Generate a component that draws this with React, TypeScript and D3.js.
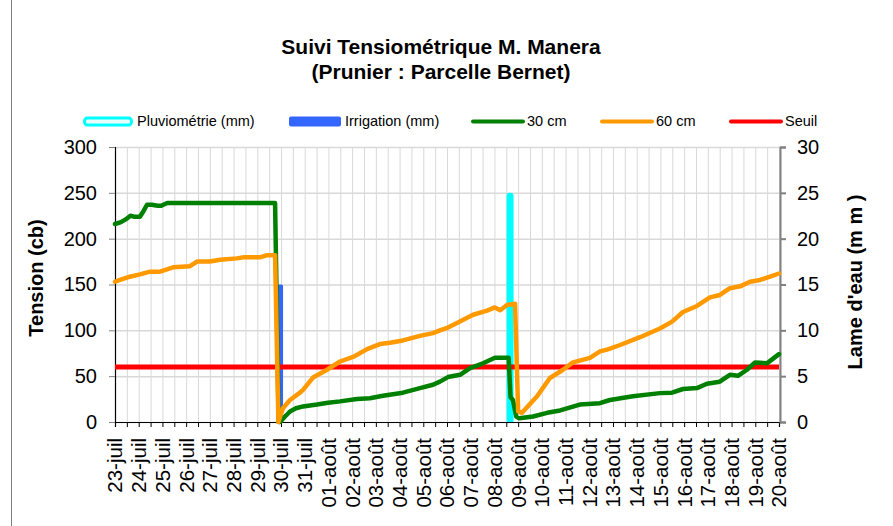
import React, { useEffect, useRef } from "react";
import * as d3 from "d3";

// days since 23-juil (0) for every label
const dayLabels = [
  "23-juil", "24-juil", "25-juil", "26-juil", "27-juil", "28-juil", "29-juil", "30-juil", "31-juil",
  "01-août", "02-août", "03-août", "04-août", "05-août", "06-août", "07-août", "08-août", "09-août",
  "10-août", "11-août", "12-août", "13-août", "14-août", "15-août", "16-août", "17-août", "18-août",
  "19-août", "20-août",
];
const tensionTicks = [0, 50, 100, 150, 200, 250, 300];
const lameTicks = [0, 5, 10, 15, 20, 25, 30];

// 30 cm probe (time in days, tension in cb)
const t30 = [0, 0.25, 0.45, 0.65, 0.8, 1.05, 1.2, 1.35, 1.55, 1.8, 1.95, 2.2, 6.75, 6.9, 6.96, 7.17, 7.38, 7.63, 7.93,
  8.52, 8.98, 9.49, 10.2, 10.75, 11.3, 12.14, 12.86, 13.41, 13.7, 14.04, 14.55, 14.97, 15.52, 16.02, 16.6, 16.68,
  16.78, 16.92, 17.05, 17.63, 18.22, 18.77, 19.6, 20.45, 20.87, 21.84, 22.98, 23.49, 23.95, 24.54, 24.96, 25.5,
  25.93, 26.27, 26.65, 26.99, 27.49, 28];
const v30 = [216, 218, 221, 225, 224, 224, 230, 237, 237, 236, 236, 239, 239, 0, 0, 6, 11.5, 15, 17,
  19, 21, 22.5, 25, 26, 28.6, 32, 37, 40.6, 44, 49, 51.5, 58.8, 64, 70, 70, 27,
  24, 6, 4, 6, 10, 12.6, 19, 20.5, 24, 28, 31.5, 32, 36, 37, 41.7, 44,
  51.5, 50.4, 57, 65, 64, 74];

// 60 cm probe
const t60 = [0, 0.21, 0.63, 1.05, 1.48, 1.9, 2.45, 3.16, 3.46, 4.0, 4.43, 5.14, 5.4, 6.12, 6.41, 6.75, 6.89, 7.08,
  7.38, 7.8, 7.93, 8.35, 8.94, 9.49, 10.04, 10.63, 11.17, 11.6, 12.14, 12.86, 13.41, 13.7, 14.04, 14.42, 15.1,
  15.69, 16.02, 16.24, 16.53, 16.87, 17.0, 17.16, 17.8, 18.34, 18.89, 19.31, 20.03, 20.45, 20.75, 21.3, 22.14,
  22.98, 23.49, 23.95, 24.54, 25.09, 25.51, 25.93, 26.36, 26.78, 27.2, 27.62, 28];
const v60 = [153, 155, 158.5, 161, 164, 164, 168.7, 170, 175, 175, 177, 178.5, 179.6, 179.6, 182, 182, 0, 15,
  24, 32, 35, 48.5, 57, 66, 71, 79.5, 85, 86.5, 89, 94, 97, 100, 103, 108, 117,
  121.5, 125, 122, 127.7, 129, 11.5, 10, 28, 48, 57, 65, 70, 77, 79, 84, 92.5,
  102, 109.5, 120, 126.6, 136, 138.6, 146, 148, 153, 155, 158.5, 162];

const seuil = 60;

// water amounts (mm), right axis
const pluieDays = [16.66];
const pluieMm = [25];
const irrigDays = [6.96];
const irrigMm = [15];

const W = 893;
const H = 526;
const FONT = "'Liberation Sans', Arial, sans-serif";

export default function App() {
  const ref = useRef<SVGSVGElement>(null);

  useEffect(() => {
    const svg = d3.select(ref.current);
    svg.selectAll("*").remove();

    const x = d3.scaleLinear().domain([0, 28]).range([115, 779]);
    const y = d3.scaleLinear().domain([0, 300]).range([422, 147]);
    const y2 = d3.scaleLinear().domain([0, 30]).range([422, 147]);

    svg.append("rect").attr("width", W).attr("height", H).attr("fill", "#fff");
    svg.append("line").attr("x1", 11.5).attr("x2", 11.5).attr("y1", 0).attr("y2", H)
      .attr("stroke", "#7f7f7f").attr("stroke-width", 1);

    // title
    const title = svg.append("text").attr("x", 441).attr("text-anchor", "middle")
      .attr("font-family", FONT).attr("font-weight", "bold").attr("font-size", 21);
    title.append("tspan").attr("x", 441).attr("y", 54).text("Suivi Tensiométrique M. Manera");
    title.append("tspan").attr("x", 441).attr("y", 79).text("(Prunier : Parcelle Bernet)");

    // grid
    const halfDays = d3.range(0, 28.001, 0.5);
    svg.append("g").selectAll("line").data(halfDays).join("line")
      .attr("x1", d => x(d) + 0.5).attr("x2", d => x(d) + 0.5)
      .attr("y1", y(300)).attr("y2", y(0))
      .attr("stroke", "#d9d9d9").attr("stroke-width", 1);
    svg.append("g").selectAll("line").data(tensionTicks).join("line")
      .attr("x1", x(0)).attr("x2", x(28))
      .attr("y1", d => y(d) + 0.5).attr("y2", d => y(d) + 0.5)
      .attr("stroke", "#d9d9d9").attr("stroke-width", 1.5);

    // bars
    svg.append("g").selectAll("rect").data(irrigDays).join("rect")
      .attr("x", d => x(d) - 3).attr("width", 6)
      .attr("y", (d, i) => y2(irrigMm[i])).attr("height", (d, i) => y2(0) - y2(irrigMm[i]))
      .attr("rx", 1.5).attr("fill", "#3366ff");
    svg.append("g").selectAll("rect").data(pluieDays).join("rect")
      .attr("x", d => x(d) - 3.5).attr("width", 7)
      .attr("y", (d, i) => y2(pluieMm[i])).attr("height", (d, i) => y2(0) - y2(pluieMm[i]) + 1)
      .attr("rx", 3).attr("fill", "#00ffff");

    // axes
    const xAxis = svg.append("g").attr("transform", `translate(0,${y(0)})`)
      .call(d3.axisBottom(x).tickValues(halfDays).tickSize(5).tickFormat(() => ""));
    xAxis.select(".domain").attr("stroke", "#000").attr("stroke-width", 1.2);

    const left = svg.append("g").attr("transform", `translate(${x(0)},0)`)
      .call(d3.axisLeft(y).tickValues(tensionTicks).tickSize(6).tickPadding(12));
    left.selectAll("text").attr("font-family", FONT).attr("font-size", 20).attr("fill", "#000");
    left.selectAll(".tick line").attr("stroke", "#808080");
    left.select(".domain").attr("stroke", "#000").attr("stroke-width", 1.2);

    const right = svg.append("g").attr("transform", `translate(${x(28) + 1},0)`)
      .call(d3.axisRight(y2).tickValues(lameTicks).tickSize(6).tickPadding(11));
    right.selectAll("text").attr("font-family", FONT).attr("font-size", 20).attr("fill", "#000");
    right.selectAll(".tick line").attr("stroke", "#808080").attr("stroke-width", 2);
    right.select(".domain").attr("stroke", "#808080").attr("stroke-width", 2);

    svg.append("g").selectAll("text").data(dayLabels).join("text")
      .attr("transform", (d, i) => `translate(${x(i)},438) rotate(-90)`)
      .attr("text-anchor", "end").attr("dy", "0.36em")
      .attr("font-family", FONT).attr("font-size", 20.5).text(d => d);

    // axis titles
    svg.append("text").attr("transform", "translate(36,278) rotate(-90)")
      .attr("text-anchor", "middle").attr("dy", "0.36em")
      .attr("font-family", FONT).attr("font-weight", "bold").attr("font-size", 20).text("Tension (cb)");
    svg.append("text").attr("transform", "translate(855,282) rotate(-90)")
      .attr("text-anchor", "middle").attr("dy", "0.36em")
      .attr("font-family", FONT).attr("font-weight", "bold").attr("font-size", 20).text("Lame d'eau (m m )");

    // seuil + probe lines
    svg.append("line").attr("x1", x(0)).attr("x2", x(28)).attr("y1", y(seuil)).attr("y2", y(seuil))
      .attr("stroke", "#ff0000").attr("stroke-width", 5);

    const series = [
      { t: t30, v: v30, color: "#008000" },
      { t: t60, v: v60, color: "#ff9900" },
    ];
    svg.append("g").selectAll("path").data(series).join("path")
      .attr("d", s => d3.line<number>().x(d => x(s.t[d])).y(d => y(s.v[d]))(d3.range(s.t.length)))
      .attr("fill", "none").attr("stroke", s => s.color).attr("stroke-width", 4.5)
      .attr("stroke-linejoin", "round").attr("stroke-linecap", "round");

    // legend
    const lg = svg.append("g").attr("font-family", FONT).attr("font-size", 14.5);
    lg.append("rect").attr("x", 84.5).attr("y", 118).attr("width", 47).attr("height", 7).attr("rx", 3)
      .attr("fill", "#e6ffff").attr("stroke", "#00ffff").attr("stroke-width", 3);
    lg.append("text").attr("x", 137).attr("y", 126).text("Pluviométrie (mm)");
    lg.append("rect").attr("x", 289).attr("y", 116.5).attr("width", 52).attr("height", 10).attr("rx", 2)
      .attr("fill", "#3366ff");
    lg.append("text").attr("x", 345).attr("y", 126).text("Irrigation (mm)");
    const legLines = [
      { x: 473, color: "#008000", label: "30 cm" },
      { x: 602, color: "#ff9900", label: "60 cm" },
      { x: 731, color: "#ff0000", label: "Seuil" },
    ];
    lg.selectAll(".ll").data(legLines).join("line").attr("class", "ll")
      .attr("x1", d => d.x).attr("x2", d => d.x + 50).attr("y1", 121.5).attr("y2", 121.5)
      .attr("stroke", d => d.color).attr("stroke-width", 4).attr("stroke-linecap", "round");
    lg.selectAll(".lt").data(legLines).join("text").attr("class", "lt")
      .attr("x", d => d.x + 54).attr("y", 126).text(d => d.label);
  }, []);

  return (
    <svg ref={ref} width={W} height={H} style={{ position: "absolute", left: 0, top: 0, display: "block" }} />
  );
}
